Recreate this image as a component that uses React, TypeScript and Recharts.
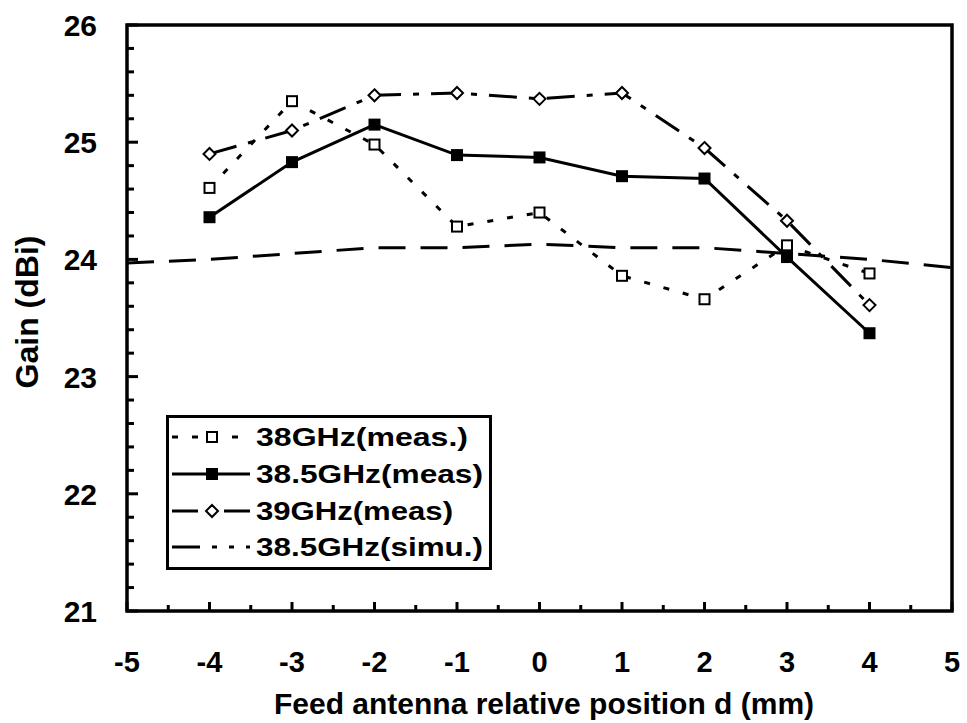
import { Label, Legend, Line, LineChart, ReferenceArea, XAxis, YAxis } from 'recharts'

const FONT = '"Liberation Sans", Arial, Helvetica, sans-serif'
const INK = '#000'

// feed position d (mm)
const X_POS = [-5, -4, -3, -2, -1, 0, 1, 2, 3, 4, 5]
// gain (dBi)
const GAIN_38 = [null, 24.61, 25.35, 24.98, 24.28, 24.4, 23.86, 23.66, 24.12, 23.88, null]
const GAIN_385 = [null, 24.36, 24.83, 25.15, 24.89, 24.87, 24.71, 24.69, 24.02, 23.37, null]
const GAIN_39 = [null, 24.9, 25.1, 25.4, 25.42, 25.37, 25.42, 24.95, 24.33, 23.61, null]
const GAIN_SIM = [23.97, 24.0, 24.05, 24.1, 24.1, 24.13, 24.1, 24.1, 24.05, 24.0, 23.93]

const X_TICKS = [-5, -4, -3, -2, -1, 0, 1, 2, 3, 4, 5]
const X_MINOR = [-4.5, -3.5, -2.5, -1.5, -0.5, 0.5, 1.5, 2.5, 3.5, 4.5]
const Y_TICKS = [21, 22, 23, 24, 25, 26]
const Y_MINOR = [
  21.2, 21.4, 21.6, 21.8, 22.2, 22.4, 22.6, 22.8, 23.2, 23.4, 23.6, 23.8, 24.2, 24.4, 24.6, 24.8,
  25.2, 25.4, 25.6, 25.8,
]

const LEGEND_LABELS = ['38GHz(meas.)', '38.5GHz(meas)', '39GHz(meas)', '38.5GHz(simu.)']

const rows = X_POS.map((x, i) => ({
  x,
  g38: GAIN_38[i],
  g385: GAIN_385[i],
  g39: GAIN_39[i],
  sim: GAIN_SIM[i],
}))

const PLOT_LEFT = 127
const PLOT_BOTTOM = 611

const DASH_38 = '6 14'
const DASH_39 = '28 12 6 12'
const DASH_SIM = '27 15'

function openSquare(p: any) {
  if (p.cx == null || p.cy == null || p.value == null) return <g key={`s${p.index}`} />
  return (
    <rect key={`s${p.index}`} x={p.cx - 5} y={p.cy - 5} width={10} height={10} fill="#fff" stroke={INK} strokeWidth={2} />
  )
}

function filledSquare(p: any) {
  if (p.cx == null || p.cy == null || p.value == null) return <g key={`f${p.index}`} />
  return <rect key={`f${p.index}`} x={p.cx - 6} y={p.cy - 6} width={12} height={12} fill={INK} />
}

function openDiamond(p: any) {
  if (p.cx == null || p.cy == null || p.value == null) return <g key={`d${p.index}`} />
  const { cx, cy } = p
  return (
    <polygon
      key={`d${p.index}`}
      points={`${cx},${cy - 6} ${cx + 6},${cy} ${cx},${cy + 6} ${cx - 6},${cy}`}
      fill="#fff"
      stroke={INK}
      strokeWidth={2}
    />
  )
}

function plotFrame(p: any) {
  return (
    <rect
      x={p.x}
      y={p.y}
      width={p.width}
      height={p.height}
      fill="none"
      stroke={INK}
      strokeWidth={3.5}
    />
  )
}

function xTick(p: any) {
  const v = p.payload.value
  const major = X_TICKS.includes(v)
  return (
    <g>
      <line x1={p.x} x2={p.x} y1={PLOT_BOTTOM} y2={PLOT_BOTTOM - (major ? 9 : 6)} stroke={INK} strokeWidth={3} />
      {major ? (
        <text x={p.x} y={672} textAnchor="middle" fontFamily={FONT} fontWeight="bold" fontSize={29} fill={INK}>
          {v}
        </text>
      ) : null}
    </g>
  )
}

function yTick(p: any) {
  const v = p.payload.value
  const major = Y_TICKS.includes(v)
  return (
    <g>
      <line x1={PLOT_LEFT} x2={PLOT_LEFT + (major ? 11 : 7)} y1={p.y} y2={p.y} stroke={INK} strokeWidth={3} />
      {major ? (
        <text x={97} y={p.y + 11} textAnchor="end" fontFamily={FONT} fontWeight="bold" fontSize={30} fill={INK}>
          {v}
        </text>
      ) : null}
    </g>
  )
}

function LegendBox() {
  const rowY = [22, 59, 96, 132]
  const widths = [212, 227, 197, 227]
  const dashes = [DASH_38, undefined, '26 10 6 10', '28 12 5 12 5 12']
  const markers = [
    <rect x={41} y={rowY[0] - 5} width={10} height={10} fill="#fff" stroke={INK} strokeWidth={2} />,
    <rect x={40} y={rowY[1] - 6} width={12} height={12} fill={INK} />,
    <polygon
      points={`46,${rowY[2] - 6} 52,${rowY[2]} 46,${rowY[2] + 6} 40,${rowY[2]}`}
      fill="#fff"
      stroke={INK}
      strokeWidth={2}
    />,
    null,
  ]
  return (
    <svg width={326} height={155} style={{ display: 'block' }}>
      <rect x={1.5} y={1.5} width={323} height={152} fill="#fff" stroke={INK} strokeWidth={3} />
      {LEGEND_LABELS.map((name, i) => (
        <g key={name}>
          <line x1={6} x2={84} y1={rowY[i]} y2={rowY[i]} stroke={INK} strokeWidth={3} strokeDasharray={dashes[i]} />
          {markers[i]}
          <text
            x={90}
            y={rowY[i] + 9}
            fontFamily={FONT}
            fontWeight="bold"
            fontSize={26}
            fill={INK}
            textLength={widths[i]}
            lengthAdjust="spacingAndGlyphs"
          >
            {name}
          </text>
        </g>
      ))}
    </svg>
  )
}

export default function App() {
  return (
    <div style={{ position: 'absolute', left: 0, top: 0, width: 967, height: 723, background: '#fff' }}>
      <LineChart width={967} height={723} data={rows} margin={{ top: 25, right: 15, bottom: 0, left: 0 }}>
        <XAxis
          type="number"
          dataKey="x"
          domain={[-5, 5]}
          ticks={[...X_TICKS, ...X_MINOR].sort((a, b) => a - b)}
          interval={0}
          axisLine={false}
          tickLine={false}
          tick={xTick}
          height={112}
        >
          <Label
            content={() => (
              <text x={544} y={714} textAnchor="middle" fontFamily={FONT} fontWeight="bold" fontSize={30} fill={INK}>
                Feed antenna relative position d (mm)
              </text>
            )}
          />
        </XAxis>
        <YAxis
          type="number"
          domain={[21, 26]}
          ticks={[...Y_TICKS, ...Y_MINOR].sort((a, b) => a - b)}
          interval={0}
          axisLine={false}
          tickLine={false}
          tick={yTick}
          width={127}
        >
          <Label
            content={() => (
              <text
                x={38}
                y={312}
                transform="rotate(-90 38 312)"
                textAnchor="middle"
                fontFamily={FONT}
                fontWeight="bold"
                fontSize={32}
                fill={INK}
              >
                Gain (dBi)
              </text>
            )}
          />
        </YAxis>
        <ReferenceArea x1={-5} x2={5} y1={21} y2={26} ifOverflow="visible" shape={plotFrame} />
        <Line
          dataKey="sim"
          stroke={INK}
          strokeWidth={3}
          strokeDasharray={DASH_SIM}
          dot={false}
          isAnimationActive={false}
        />
        <Line
          dataKey="g38"
          stroke={INK}
          strokeWidth={3}
          strokeDasharray={DASH_38}
          dot={openSquare}
          isAnimationActive={false}
        />
        <Line
          dataKey="g39"
          stroke={INK}
          strokeWidth={3}
          strokeDasharray={DASH_39}
          dot={openDiamond}
          isAnimationActive={false}
        />
        <Line dataKey="g385" stroke={INK} strokeWidth={3} dot={filledSquare} isAnimationActive={false} />
        <Legend
          layout="vertical"
          align="center"
          verticalAlign="middle"
          content={LegendBox}
          wrapperStyle={{ left: 166, top: 415, width: 326, height: 155 }}
        />
      </LineChart>
    </div>
  )
}
